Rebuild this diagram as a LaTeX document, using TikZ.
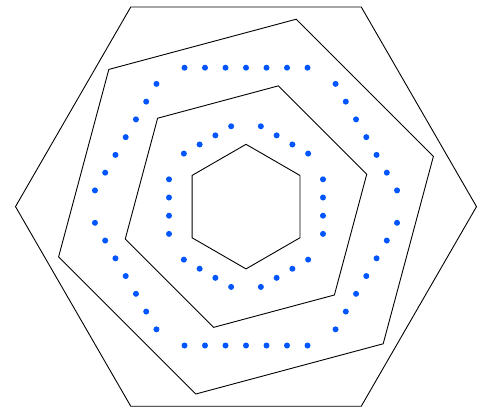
\documentclass[tikz,border=0pt]{standalone}
\usetikzlibrary{calc}
\definecolor{dotblue}{RGB}{0,85,255}
\begin{document}
\begin{tikzpicture}[x=1bp,y=1bp,
  hex/.style={draw=black,line width=0.9bp,line join=miter},
  bluedot/.style={fill=dotblue}]
\useasboundingbox (0,0) rectangle (485,407);
\coordinate (c) at (246,200.4);
\foreach \i in {0,...,5}{
  \coordinate (A\i) at ($(c)+(\i*60:230.5)$);
  \coordinate (B\i) at ($(c)+(15+\i*60:194)$);
  \coordinate (C\i) at ($(c)+(15+\i*60:125)$);
  \coordinate (D\i) at ($(c)+(30+\i*60:62.3)$);
  \coordinate (E\i) at ($(c)+(\i*60:160.4)$);
  \coordinate (F\i) at ($(c)+(30+\i*60:88.9)$);
}
\draw[hex] (A0)--(A1)--(A2)--(A3)--(A4)--(A5)--cycle;
\draw[hex] (B0)--(B1)--(B2)--(B3)--(B4)--(B5)--cycle;
\draw[hex] (C0)--(C1)--(C2)--(C3)--(C4)--(C5)--cycle;
\draw[hex] (D0)--(D1)--(D2)--(D3)--(D4)--(D5)--cycle;
\foreach \i [evaluate=\i as \j using {int(mod(\i+1,6))}] in {0,...,5}{
  \foreach \k in {0,...,6}
    \fill[bluedot] ($(E\i)!{0.5+(\k-3)*0.1278}!(E\j)$) circle (3);
  \foreach \k in {0,...,3}
    \fill[bluedot] ($(F\i)!{0.5+(\k-1.5)*0.2047}!(F\j)$) circle (3);
}
\end{tikzpicture}
\end{document}
